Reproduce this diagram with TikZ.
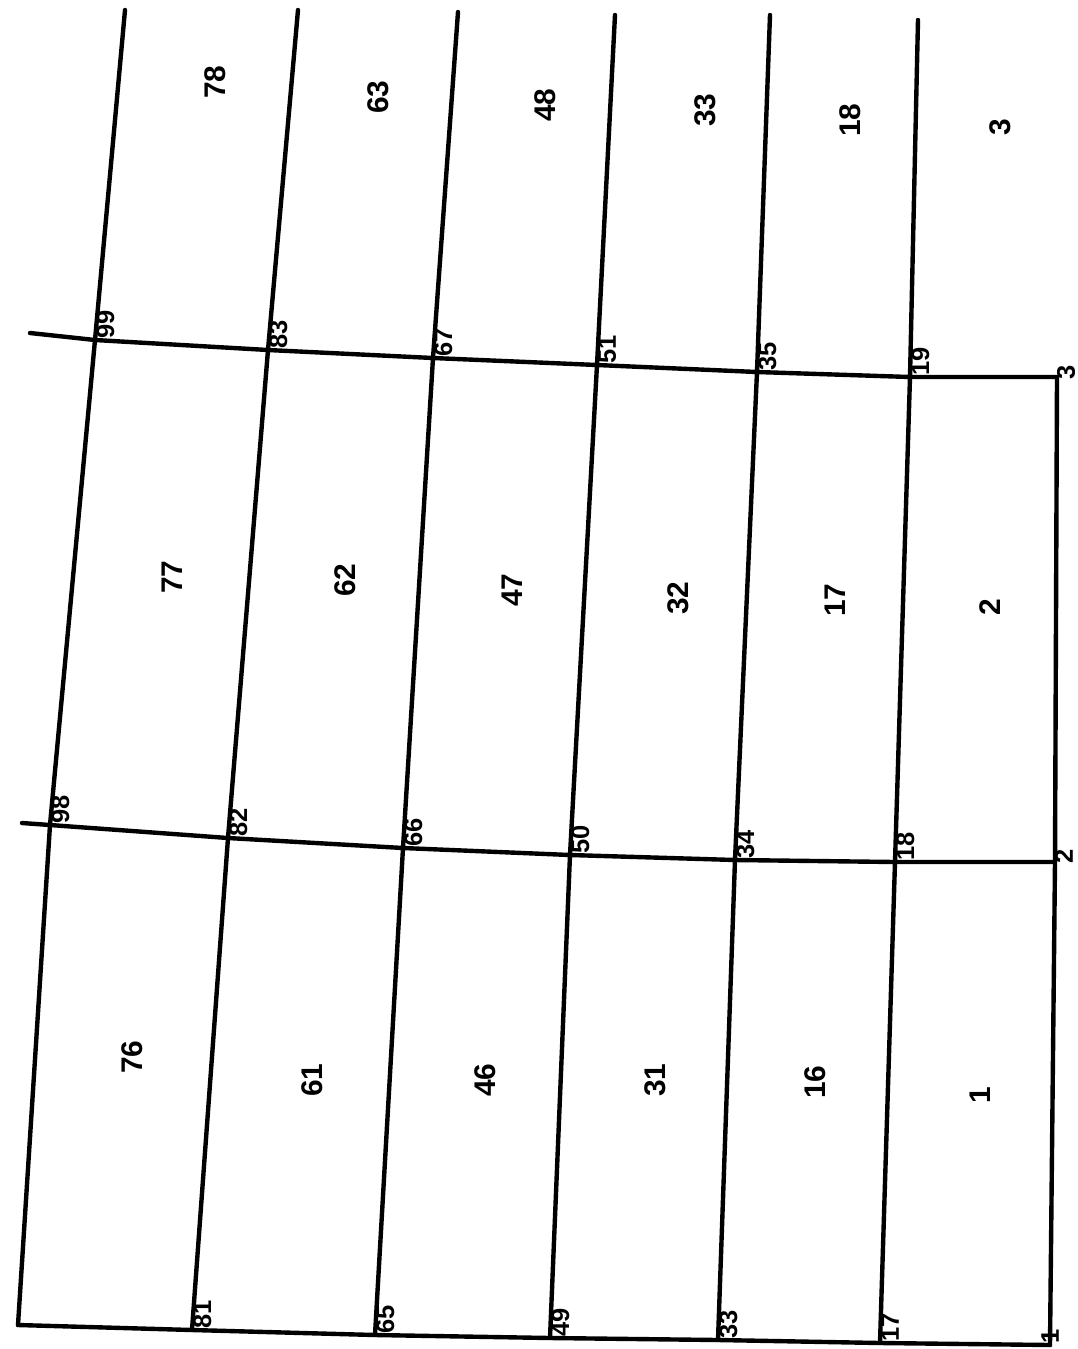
\documentclass[tikz,border=0pt]{standalone}
\usepackage{fontspec}
\setmainfont{Liberation Sans}
\usepackage{tikz}
\usetikzlibrary{positioning}

\begin{document}
\begin{tikzpicture}[x=0.2mm,y=-0.2mm,
mesh/.style = {line width=2.5pt, line cap=round, line join=round},
nlabel/.style = {rotate=90, anchor=north west, inner sep=0.6pt,
                 font=\bfseries\fontsize{14.5}{14.5}\selectfont},
elabel/.style = {rotate=90, inner sep=0pt,
                 font=\bfseries\fontsize{17}{17}\selectfont}
                    ]
\useasboundingbox (0,0) rectangle (1078,1349);
%
\foreach \n/\x/\y in {97/18/1325, 98/50/825, 99/95/340,
                      81/192/1330, 82/228/838, 83/268/350,
                      65/375/1335, 66/403/848, 67/433/358,
                      49/550/1338, 50/570/855, 51/597/365,
                      33/718/1340, 34/735/860, 35/757/372,
                      17/880/1343, 18/895/862, 19/910/377,
                      1/1050/1345, 2/1055/862, 3/1057/377}
    \coordinate (n\n) at (\x,\y);
\foreach \n/\x/\y in {99/125/10, 83/298/10, 67/458/12,
                      51/615/15, 35/770/15, 19/918/20}
    \coordinate (t\n) at (\x,\y);
\coordinate (l98) at (22,823);
\coordinate (l99) at (30,333);
%
\foreach \a/\b/\c in {97/98/99, 81/82/83, 65/66/67, 49/50/51, 33/34/35, 17/18/19}
    \draw[mesh] (n\a) -- (n\b) -- (n\c) -- (t\c);
\draw[mesh] (n1) -- (n2) -- (n3);
\draw[mesh] (n97) -- (n81) -- (n65) -- (n49) -- (n33) -- (n17) -- (n1);
\draw[mesh] (l98) -- (n98) -- (n82) -- (n66) -- (n50) -- (n34) -- (n18) -- (n2);
\draw[mesh] (l99) -- (n99) -- (n83) -- (n67) -- (n51) -- (n35) -- (n19) -- (n3);
%
\foreach \n in {98,99,81,82,83,65,66,67,49,50,51,33,34,35,17,18,19}
    \node[nlabel] (lbl\n) at (n\n) {\n};
\foreach \n/\dx/\dy in {1/0/-9, 2/9/-6, 3/9/-5}
    \node[nlabel, anchor=center] (lbl\n) at ([shift={(\dx,\dy)}]n\n) {\n};
%
\foreach \e/\x/\y in {76/132/1057, 77/172/577, 78/215/82,
                      61/312/1080, 62/345/580, 63/378/97,
                      46/485/1080, 47/512/590, 48/545/105,
                      31/655/1080, 32/678/598, 33/705/110,
                      16/815/1082, 17/835/600, 18/850/120,
                      1/980/1095, 2/990/607, 3/1000/127}
    \node[elabel] (e\e) at (\x,\y) {\e};
\end{tikzpicture}
\end{document}
